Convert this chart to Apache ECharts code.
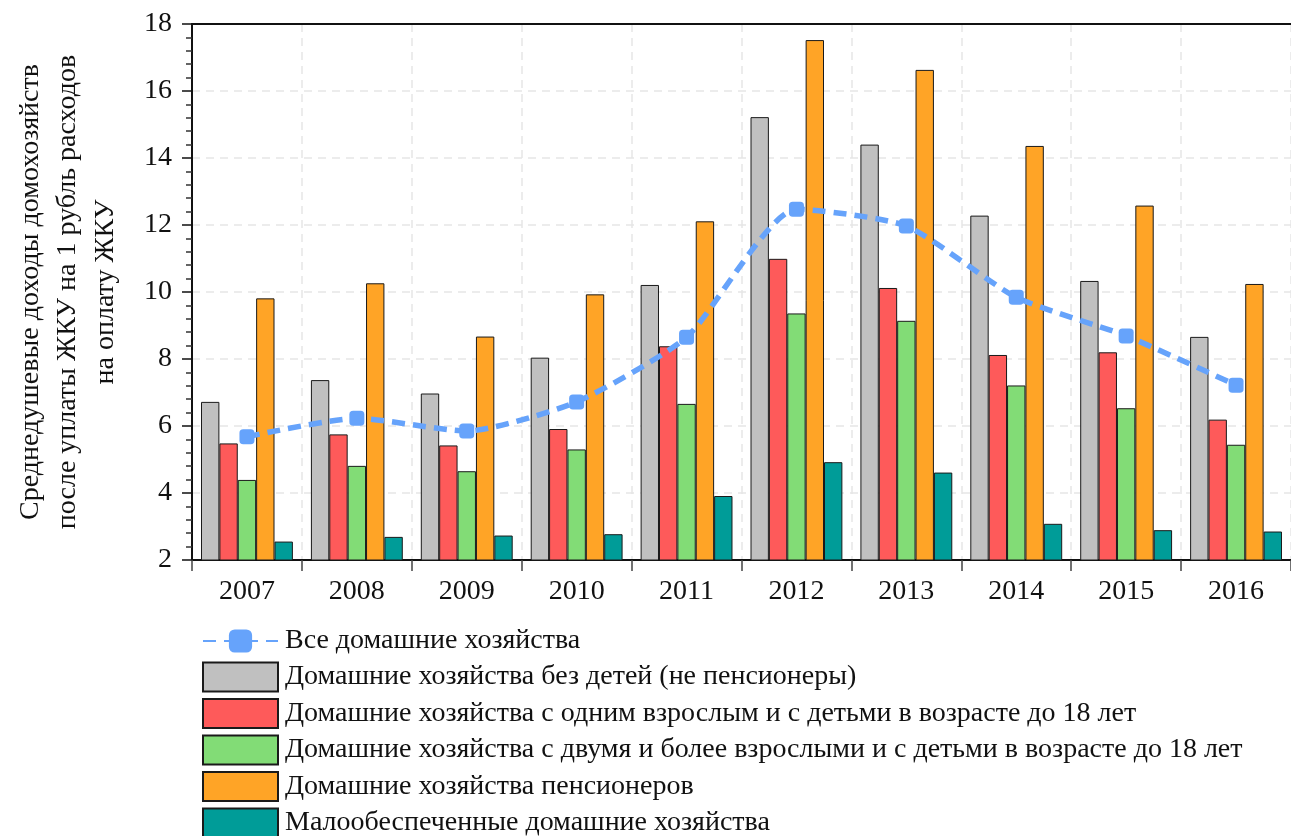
<!DOCTYPE html>
<html><head><meta charset="utf-8">
<script src="https://cdn.jsdelivr.net/npm/echarts@6/dist/echarts.min.js"></script>
<style>html,body{margin:0;padding:0;background:#fff}#c{width:1291px;height:836px}</style>
</head><body><div id="c"></div>
<script>
const years = ['2007','2008','2009','2010','2011','2012','2013','2014','2015','2016'];
const allHouseholds = [5.68, 6.23, 5.85, 6.72, 8.65, 12.47, 11.97, 9.84, 8.69, 7.22];
const noChildren = [6.72, 7.37, 6.97, 8.04, 10.21, 15.22, 14.40, 12.28, 10.33, 8.66];
const oneAdult = [5.48, 5.75, 5.42, 5.91, 8.38, 10.99, 10.12, 8.12, 8.20, 6.19];
const twoAdults = [4.39, 4.81, 4.65, 5.30, 6.66, 9.36, 9.14, 7.21, 6.53, 5.44];
const pensioners = [9.81, 10.26, 8.67, 9.93, 12.11, 17.52, 16.63, 14.36, 12.58, 10.24];
const lowIncome = [2.55, 2.69, 2.73, 2.77, 3.91, 4.92, 4.61, 3.08, 2.89, 2.85];
const seriesNames = [
  'Все домашние хозяйства',
  'Домашние хозяйства без детей (не пенсионеры)',
  'Домашние хозяйства с одним взрослым и с детьми в возрасте до 18 лет',
  'Домашние хозяйства с двумя и более взрослыми и с детьми в возрасте до 18 лет',
  'Домашние хозяйства пенсионеров',
  'Малообеспеченные домашние хозяйства'
];
const yTicks = [2, 18, 2];

const FONT = 'Liberation Serif';
const chart = echarts.init(document.getElementById('c'));
function bar(name, data, color) {
  return {
    name, type: 'bar', data, barGap: '0%', barCategoryGap: '16.4%',
    itemStyle: { color, borderColor: '#1a1a1a', borderWidth: 1 },
    z: 2
  };
}
chart.setOption({
  animation: false,
  textStyle: { fontFamily: FONT },
  grid: { left: 192, right: 0, top: 24, bottom: 276, containLabel: false, outerBoundsMode: 'none' },
  legend: {
    orient: 'vertical', left: 197, top: 621, height: 400,
    itemWidth: 75, itemHeight: 29, itemGap: 5.5,
    textStyle: { fontFamily: FONT, fontSize: 28, color: '#111', lineHeight: 30, padding: [0, 0, 0, 2] },
    data: seriesNames.map((n, i) => i === 0 ? { name: n } : { name: n, icon: 'rect' })
  },
  xAxis: [{
    type: 'category', data: years,
    axisLine: { lineStyle: { color: '#111', width: 2 } },
    axisTick: { show: true, length: 11, lineStyle: { color: '#444', width: 1.5 } },
    axisLabel: { fontFamily: FONT, fontSize: 28, color: '#111', margin: 18 },
    splitLine: { show: true, lineStyle: { color: '#e6e6e6', type: [8, 6], width: 1.5 } }
  }, {
    type: 'category', data: years, position: 'top',
    axisLine: { lineStyle: { color: '#111', width: 2 } },
    axisTick: { show: false }, axisLabel: { show: false }, splitLine: { show: false }
  }],
  yAxis: {
    type: 'value', min: yTicks[0], max: yTicks[1], interval: yTicks[2],
    name: 'Среднедушевые доходы домохозяйств\nпосле уплаты ЖКУ на 1 рубль расходов\nна оплату ЖКУ',
    nameLocation: 'middle', nameGap: 68, nameRotate: 90,
    nameTextStyle: { fontFamily: FONT, fontSize: 28, color: '#111', lineHeight: 37.5, align: 'center' },
    axisLine: { show: true, lineStyle: { color: '#111', width: 2 } },
    axisTick: { show: true, length: 10, lineStyle: { color: '#111', width: 1.5 } },
    minorTick: { show: true, splitNumber: 5, length: 6, lineStyle: { color: '#333', width: 1.5 } },
    axisLabel: { fontFamily: FONT, fontSize: 28, color: '#111', margin: 20 },
    splitLine: { show: true, lineStyle: { color: '#e6e6e6', type: [8, 6], width: 1.5 } }
  },
  series: [
    {
      name: seriesNames[0], type: 'line', data: allHouseholds, smooth: 0.2,
      symbol: 'roundRect', symbolSize: 15,
      lineStyle: { color: '#66a3fb', width: 5.5, type: [13, 8] },
      itemStyle: { color: '#66a3fb' }, z: 5
    },
    bar(seriesNames[1], noChildren, '#c0c0c0'),
    bar(seriesNames[2], oneAdult, '#fe5a5a'),
    bar(seriesNames[3], twoAdults, '#82dc76'),
    bar(seriesNames[4], pensioners, '#ffa426'),
    bar(seriesNames[5], lowIncome, '#009c98')
  ]
});
</script></body></html>
